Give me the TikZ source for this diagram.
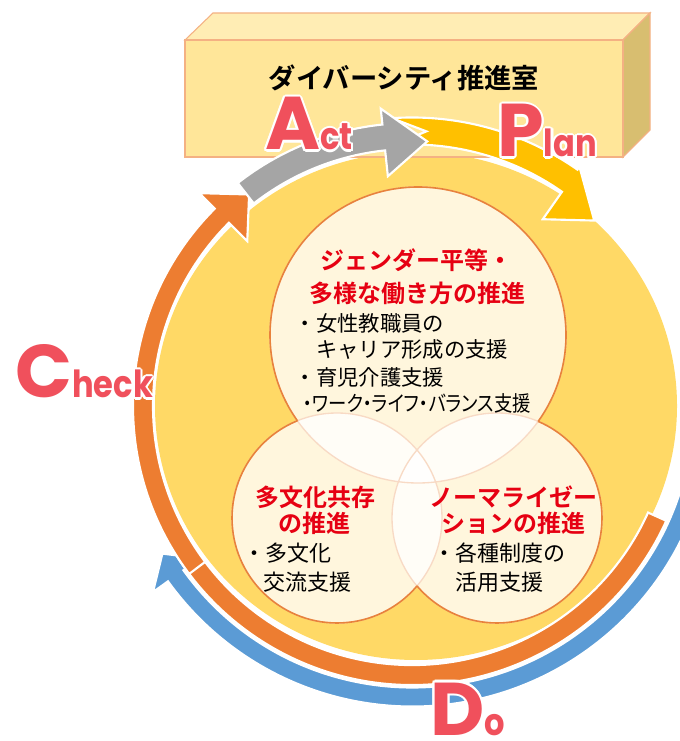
\documentclass[tikz,border=0pt]{standalone}
\usepackage{fontspec}
\usepackage{graphicx}
\usepackage[copies]{contour}
\usetikzlibrary{calc}
\newfontfamily\jp{Noto Sans CJK JP}[BoldFont={Noto Sans CJK JP Bold}]
\newfontfamily\jpp{Noto Sans CJK JP}[RawFeature=+palt]
\newfontfamily\pop{Poppins}
\definecolor{disc}{RGB}{255,217,102}
\definecolor{boxfront}{RGB}{255,230,153}
\definecolor{boxtop}{RGB}{255,237,180}
\definecolor{boxside}{RGB}{216,190,112}
\definecolor{boxline}{RGB}{244,177,131}
\definecolor{ring}{RGB}{237,125,49}
\definecolor{blueband}{RGB}{91,155,213}
\definecolor{grayband}{RGB}{165,165,165}
\definecolor{gold}{RGB}{255,192,0}
\definecolor{letter}{RGB}{240,80,92}
\definecolor{jred}{RGB}{230,0,18}
\definecolor{circline}{RGB}{232,130,60}
\contourlength{1.6pt}
\newcommand\bandarrow[9]{%
  \pgfmathsetmacro\baRo{#2+#3}%
  \pgfmathsetmacro\baRi{#2-#3}%
  \pgfmathsetmacro\baNt{#4-#5}%
  \pgfmathsetmacro\baTip{(#7+#9)/2}%
  \path[fill=#1, draw=white, line width=1.6pt, line join=miter]
    ($(B)+(#4:\baRo)$) arc[start angle=#4, end angle=#6, radius=\baRo]
    -- ($(B)+(#6:#7)$) -- ($(B)+(#8:\baTip)$) -- ($(B)+(#6:#9)$)
    -- ($(B)+(#6:\baRi)$) arc[start angle=#6, end angle=#4, radius=\baRi]
    -- ($(B)+(\baNt:#2)$) -- cycle;}
\tikzset{
  outside/.style={insert path={(-100,-100) -- (-100,900) -- (800,900) -- (800,-100) -- cycle}},
  bigletter/.style={anchor=base west, inner sep=0pt},
  redhead/.style={font=\jp\bfseries\fontsize{18}{20}\selectfont, text=jred, inner sep=0pt},
  bodytext/.style={font=\jp\fontsize{16}{18}\selectfont, text=black, inner sep=0pt, anchor=west},
  bodytextb/.style={font=\jp\fontsize{16.5}{18}\selectfont, text=black, inner sep=0pt, anchor=west},
}
\newcommand\BigL[1]{{\pop\bfseries\fontsize{56}{60}\selectfont #1}}
\newcommand\SmallL[1]{\scalebox{0.86}[1]{\pop\bfseries\fontsize{28}{30}\selectfont #1}}
\begin{document}
\begin{tikzpicture}[x=0.75pt,y=0.75pt]
\useasboundingbox (0,0) rectangle (680,741);
\clip (0,0) rectangle (680,741);
\coordinate (B) at (412,335);
\coordinate (Y) at (416,335);
% yellow disc
\fill[disc] (Y) ellipse [x radius=261, y radius=254];
% box
\path[fill=boxtop, draw=boxline, line width=0.8pt] (185,701) -- (213,728) -- (650,728) -- (623,701) -- cycle;
\path[fill=boxside, draw=boxline, line width=0.8pt] (623,701) -- (650,728) -- (650,611) -- (623,584) -- cycle;
\path[fill=boxfront, draw=boxline, line width=0.8pt] (185,584) rectangle (623,701);
\node[font=\jp\bfseries\fontsize{20.5}{24}\selectfont, inner sep=0pt] (title) at (404,663) {ダイバーシティ推進室};
% inner circles
\coordinate (T) at (418,406);
\coordinate (L) at (337,223);
\coordinate (R) at (497,223);
\fill[white, fill opacity=0.78] (T) circle[radius=148];
\fill[white, fill opacity=0.78] (L) circle[radius=105];
\fill[white, fill opacity=0.78] (R) circle[radius=105];
\draw[circline!30, line width=1pt] (T) circle[radius=148] (L) circle[radius=105] (R) circle[radius=105];
\begin{scope}
  \clip[outside] (L) circle[radius=105];
  \clip[outside] (R) circle[radius=105];
  \draw[circline, line width=1.2pt] (T) circle[radius=148];
\end{scope}
\begin{scope}
  \clip[outside] (T) circle[radius=148];
  \clip[outside] (R) circle[radius=105];
  \draw[circline, line width=1.2pt] (L) circle[radius=105];
\end{scope}
\begin{scope}
  \clip[outside] (T) circle[radius=148];
  \clip[outside] (L) circle[radius=105];
  \draw[circline, line width=1.2pt] (R) circle[radius=105];
\end{scope}
% ring arrows
\bandarrow{blueband}{291}{9.5}{350}{0}{215.7}{319}{210.6}{261}
\path[fill=ring, draw=white, line width=1.6pt] ($(B)+(335.7:279)$) arc[start angle=335.7, end angle=205, radius=279] -- ($(B)+(205:259)$) arc[start angle=205, end angle=335.7, radius=259] -- cycle;
\bandarrow{ring}{269}{10}{217}{0}{135}{301}{127.6}{233}
\bandarrow{gold}{275}{13.5}{94}{7}{55}{292}{45.5}{228}
\bandarrow{grayband}{270}{13}{128}{0}{96}{299}{86.7}{231}
% PDCA letters
\node[bigletter] (act) at (265,591) {\contour{white}{\textcolor{letter}{\BigL{A}\SmallL{ct}}}};
\node[bigletter] (plan) at (497,584) {\contour{white}{\textcolor{letter}{\BigL{P}\SmallL{lan}}}};
\node[bigletter] (check) at (15,343) {\contour{white}{\textcolor{letter}{\BigL{C}\SmallL{heck}}}};
\node[bigletter] (do) at (430,6) {\contour{white}{\textcolor{letter}{\BigL{D}\SmallL{o}}}};
% top circle text
\node[redhead] (t1) at (416,481) {ジェンダー平等・};
\node[redhead] (t2) at (417,448) {多様な働き方の推進};
\node[bodytext] (t3) at (316,418) {\llap{・}女性教職員の};
\node[bodytext] (t4) at (316,391) {キャリア形成の支援};
\node[bodytext] (t5) at (316,364) {\llap{・}育児介護支援};
\node[bodytext] (t6) at (303,338) {\scalebox{0.86}[1]{\jpp\fontsize{16}{18}\selectfont ・ワーク・ライフ・バランス支援}};
% left circle text
\node[redhead] (l1) at (315,244) {多文化共存};
\node[redhead] (l2) at (314,218) {の推進};
\node[bodytextb] (l3) at (265,188) {\llap{・}多文化};
\node[bodytextb] (l4) at (263,159) {交流支援};
% right circle text
\node[redhead] (r1) at (513,244) {ノーマライゼー};
\node[redhead] (r2) at (513,218) {ションの推進};
\node[bodytextb] (r3) at (455,188) {\llap{・}各種制度の};
\node[bodytextb] (r4) at (455,159) {活用支援};
\end{tikzpicture}
\end{document}
